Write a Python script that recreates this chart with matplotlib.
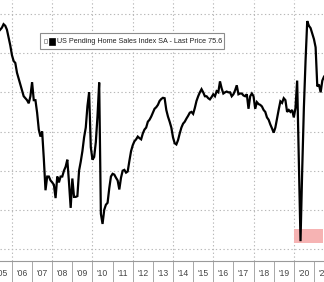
import numpy as np
import pandas as pd
import matplotlib
matplotlib.use("Agg")
import matplotlib.pyplot as plt
from matplotlib.patches import Rectangle

# ---- data: monthly index values (month-end), Apr 2005 .. Jun 2021 ----
start_month = "2005-04"
v2005 = [125.5, 126.0, 126.5, 127.4, 127.0, 126.0, 124.0, 122.0, 119.5]
v2006 = [118.0, 117.5, 115.0, 113.5, 112.0, 110.5, 109.0, 108.5, 108.0, 107.2, 109.0, 112.6]
v2007 = [108.0, 108.0, 104.8, 100.5, 98.7, 100.0, 93.0, 85.0, 88.5, 88.5, 87.5, 87.0]
v2008 = [86.4, 83.0, 88.5, 87.0, 88.5, 88.5, 90.0, 91.0, 92.8, 87.0, 80.5, 88.0]
v2009 = [83.3, 83.3, 83.5, 90.0, 92.3, 95.0, 98.5, 101.0, 106.5, 110.0, 96.0, 92.8]
v2010 = [93.5, 97.3, 104.0, 112.5, 79.0, 76.4, 80.0, 81.3, 81.8, 85.5, 88.5, 89.2]
v2011 = [89.0, 88.2, 87.5, 85.2, 88.2, 90.0, 90.2, 89.5, 89.8, 92.5, 95.0, 96.5]
v2012 = [97.5, 98.0, 98.7, 98.3, 98.0, 99.5, 100.5, 101.0, 102.5, 103.0, 103.8, 104.8]
v2013 = [105.8, 106.2, 106.8, 107.8, 108.3, 108.6, 108.5, 105.5, 103.8, 102.5, 101.0, 98.5]
v2014 = [97.0, 96.7, 97.8, 99.5, 101.0, 102.0, 102.5, 103.3, 104.0, 104.8, 105.0, 104.5]
v2015 = [106.0, 107.8, 109.0, 110.0, 110.8, 110.0, 109.0, 109.0, 108.5, 108.2, 108.8, 109.5]
v2016 = [109.0, 110.3, 110.0, 112.8, 111.0, 109.7, 110.0, 110.2, 110.0, 110.0, 109.0, 109.5]
v2017 = [110.5, 111.8, 109.5, 109.7, 109.7, 109.2, 109.0, 109.5, 105.8, 109.0, 109.7, 109.0]
v2018 = [105.8, 107.5, 107.0, 106.8, 106.4, 105.5, 105.0, 103.6, 103.0, 101.8, 100.8, 99.7]
v2019 = [101.0, 103.3, 105.6, 107.7, 107.3, 108.5, 108.0, 105.0, 105.5, 105.0, 105.5, 103.6]
v2020 = [106.0, 113.0, 92.0, 72.0, 90.0, 106.0, 118.0, 128.2, 127.0, 126.4, 125.0, 123.6]
v2021 = [121.5, 111.5, 112.0, 110.0, 113.0, 114.0]

values = (v2005 + v2006 + v2007 + v2008 + v2009 + v2010 + v2011 + v2012 + v2013
          + v2014 + v2015 + v2016 + v2017 + v2018 + v2019 + v2020 + v2021)

series_label = "US Pending Home Sales Index SA - Last Price 75.6"
year_labels = ["'05", "'06", "'07", "'08", "'09", "'10", "'11", "'12", "'13",
               "'14", "'15", "'16", "'17", "'18", "'19", "'20", "'21"]
label_years = list(range(2005, 2022))
highlight_low, highlight_high = 71.5, 75.1

# ---- positions ----
periods = pd.period_range(start_month, periods=len(values), freq="M")
t = np.array([p.year + p.month / 12.0 for p in periods])   # month-end as decimal year

W, H = 324, 282
fig = plt.figure(figsize=(W / 100, H / 100), dpi=100)
fig.patch.set_facecolor("white")
ax = fig.add_axes([0, 21 / H, 1, 261 / H])

ppy = (295 - 12) / 14.0          # pixels per year
x_left = 2006 - 12 / ppy
x_right = 2020 + (W - 295) / ppy
ax.set_xlim(x_left, x_right)
ppu = (249 - 14) / 60.0          # pixels per index unit
ax.set_ylim(70 - 12 / ppu, 130 + 14 / ppu)

grid_kw = dict(color="#b8b8b8", lw=0.8, ls=(0, (1.2, 2.2)), zorder=1)
for yv in range(70, 131, 10):
    ax.axhline(yv, **grid_kw)
for yr in range(2006, 2022, 2):
    ax.axvline(yr, **grid_kw)

ax.add_patch(Rectangle((2020.0, highlight_low), x_right - 2020.0,
                       highlight_high - highlight_low,
                       facecolor="#f6b3b3", edgecolor="none", zorder=2))

ax.plot(t, values, color="black", lw=1.6, zorder=3, solid_joinstyle="miter")

for s in ["top", "right", "left"]:
    ax.spines[s].set_visible(False)
ax.spines["bottom"].set_color("#9a9a9a")
ax.spines["bottom"].set_linewidth(0.8)
ax.set_yticks([])
ax.set_xticks(range(2006, 2022))
ax.tick_params(axis="x", which="major", length=15, width=0.7, color="#a8a8a8",
               labelbottom=False, direction="out")
ax.set_xticks([y + 0.5 for y in label_years], minor=True)
ax.set_xticklabels(year_labels, minor=True)
ax.tick_params(axis="x", which="minor", length=0, pad=6, labelsize=6.2,
               labelcolor="#444444")
for lab in ax.get_xticklabels(minor=True):
    lab.set_fontfamily("Liberation Sans")
ax.set_ylim(70 - 12 / ppu, 130 + 14 / ppu)

# ---- legend box ----
def fx(px):
    return px / W

def fy(py):
    return 1 - py / H

fig.patches.append(Rectangle((fx(40), fy(49)), fx(224) - fx(40), (49 - 33) / H,
                             transform=fig.transFigure, facecolor="white",
                             edgecolor="#8c8c8c", lw=0.8, zorder=5))
fig.patches.append(Rectangle((fx(43.5), fy(43)), 3.5 / W, 4 / H,
                             transform=fig.transFigure, facecolor="white",
                             edgecolor="#9a9a9a", lw=0.6, zorder=6))
fig.patches.append(Rectangle((fx(49), fy(44.5)), 6 / W, 6.5 / H,
                             transform=fig.transFigure, facecolor="black",
                             edgecolor="black", lw=0.5, zorder=6))
fig.text(fx(57), fy(41.5), series_label, fontsize=5.2, color="#222222",
         va="center", ha="left", zorder=7, fontfamily="Liberation Sans")

fig.savefig("out.png", dpi=100, facecolor="white")
